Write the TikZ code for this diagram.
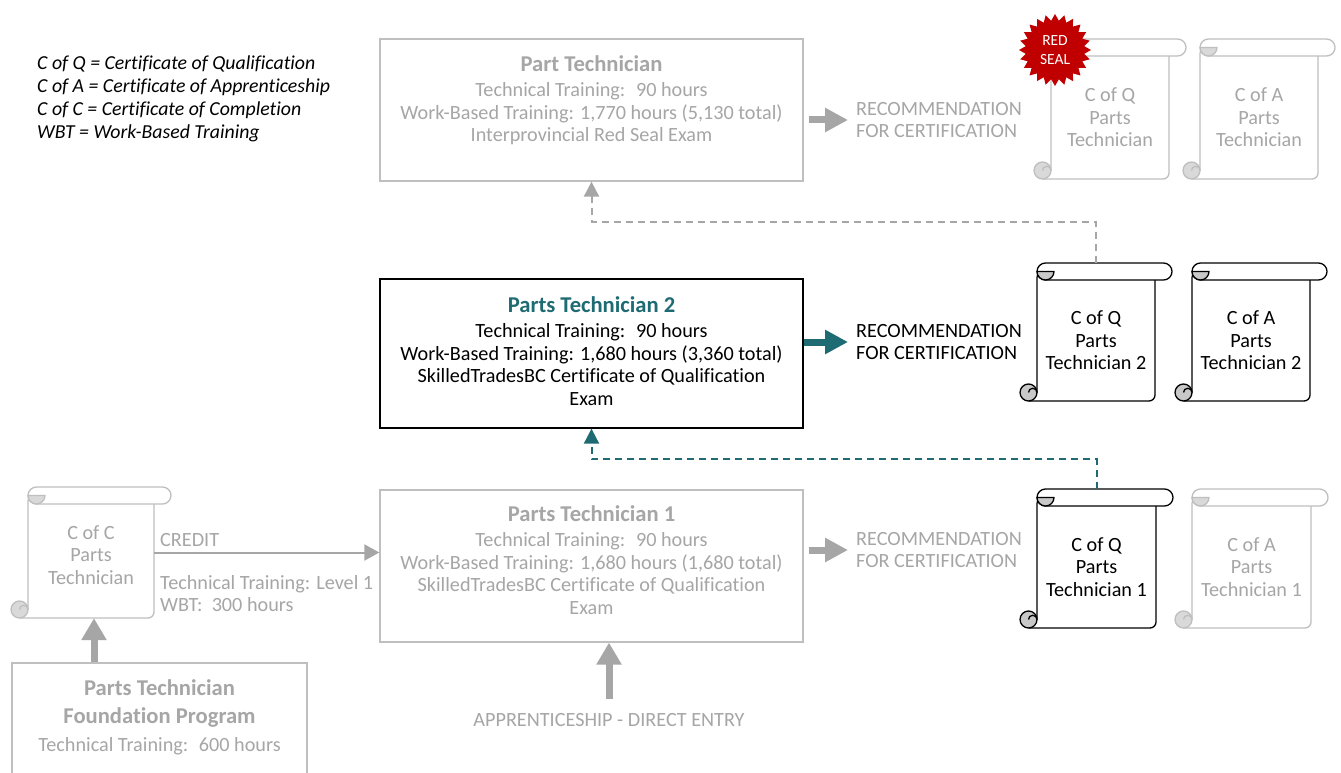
\documentclass[tikz,border=0pt]{standalone}
\usepackage{fontspec}
\setmainfont{Carlito}[Ligatures=NoCommon]
\usetikzlibrary{arrows.meta,shapes.geometric}
\definecolor{gtext}{HTML}{A6A6A6}
\definecolor{gline}{HTML}{BFBFBF}
\definecolor{garr}{HTML}{A6A6A6}
\definecolor{tealc}{HTML}{1E6B74}
\definecolor{curlg}{HTML}{D9D9D9}
\definecolor{curlk}{HTML}{C8C8C8}
\definecolor{sealred}{HTML}{C00000}
\newcommand\titlefont{\fontsize{22.6}{22.4}\selectfont\bfseries}
% #1 name, #2 X0, #3 Y0, #4 X1, #5 Y1, #6 line colour, #7 curl colour, #8 text, #9 text colour
\newcommand\certscroll[9]{%
  \begin{scope}[draw=#6, line width=1.3pt, line join=round]
    \filldraw[fill=white, rounded corners=6pt] (#2+8.5,#5) -- (#4-17,#5) -- (#4-17,#3+8.5) -- (#2+17,#3+8.5) [sharp corners] -- (#2+17,#5-8.5);
    \filldraw[fill=#7] (#2+8.5,#5-8.5) circle[radius=8.5pt];
    \draw (#2+8.5,#5-8.5) arc[start angle=180, end angle=0, radius=4.25pt];
    \filldraw[fill=white, rounded corners=8.5pt] (#2+17,#3) rectangle (#4,#3+17);
    \filldraw[fill=#7] (#2+17,#3+8.5) arc[start angle=180, end angle=360, radius=8.5pt] -- cycle;
  \end{scope}
  \node[align=center, text=#9, inner sep=0] (#1t) at ({(#2+#4)/2},{(#3+17+#5)/2}) {#8};
  \node[inner sep=0, minimum width={#4-#2-34}, minimum height={#5-#3}] (#1) at ({(#2+#4)/2},{(#3+#5)/2}) {};
}
\begin{document}
\begin{tikzpicture}[x=1pt,y=-1pt,
  font=\fontsize{20.2}{22.4}\selectfont,
  graybox/.style={draw=gline, line width=1.3pt, inner sep=0, fill=white},
  blackbox/.style={draw=black, line width=1.3pt, inner sep=0, fill=white},
  boxtext/.style={anchor=north, align=center, inner sep=0},
  recnode/.style={anchor=west, align=left, inner xsep=8pt, inner ysep=0},
  blockarrow/.style={line width=7pt, -{Triangle[length=23pt,width=23pt]}},
  vblockarrow/.style={line width=7pt, -{Triangle[length=22pt,width=24pt]}},
  dashconn/.style={line width=2pt, dash pattern=on 7pt off 5pt, -{Triangle[length=15pt,width=15pt]}},
  thinarrow/.style={line width=2pt, -{Triangle[length=15pt,width=16pt]}}
]
\useasboundingbox (0,0) rectangle (1341,773);
\fill[white] (0,0) rectangle (1341,773);

% legend
\node[anchor=north west, align=left, inner sep=0, font=\fontsize{19.8}{22.7}\selectfont\itshape] (legend) at (37,56)
  {C of Q = Certificate of Qualification\\C of A = Certificate of Apprenticeship\\C of C = Certificate of Completion\\WBT = Work-Based Training};

% boxes
\node[graybox, minimum width=423, minimum height=142] (ptop) at (591.5,110) {};
\node[boxtext, text=gtext] (ptoptx) at ([yshift=-17pt]ptop.north)
  {{\titlefont Part Technician}\\[3pt]Technical Training:~ 90 hours\\Work-Based Training: 1,770 hours (5,130 total)\\Interprovincial Red Seal Exam};

\node[blackbox, minimum width=423, minimum height=149] (pt2) at (591.5,353.5) {};
\node[boxtext, text=black] (pt2tx) at ([yshift=-18pt]pt2.north)
  {{\titlefont\color{tealc}Parts Technician 2}\\[3pt]Technical Training:~ 90 hours\\Work-Based Training: 1,680 hours (3,360 total)\\SkilledTradesBC Certificate of Qualification\\Exam};

\node[graybox, minimum width=423, minimum height=152] (pt1) at (591.5,566) {};
\node[boxtext, text=gtext] (pt1tx) at ([yshift=-16pt]pt1.north)
  {{\titlefont Parts Technician 1}\\[3pt]Technical Training:~ 90 hours\\Work-Based Training: 1,680 hours (1,680 total)\\SkilledTradesBC Certificate of Qualification\\Exam};

\node[graybox, minimum width=295, minimum height=137] (found) at (159.5,731.5) {};
\node[boxtext, text=gtext, font=\fontsize{20.2}{28}\selectfont] (foundtx) at ([yshift=-17pt]found.north)
  {{\fontsize{22.6}{28}\selectfont\bfseries Parts Technician}\\{\fontsize{22.6}{28}\selectfont\bfseries Foundation Program}\\Technical Training:~ 600 hours};

% recommendation labels
\node[recnode, text=gtext] (rectop) at (848,120) {RECOMMENDATION\\FOR CERTIFICATION};
\node[recnode, text=black] (rec2) at (848,342) {RECOMMENDATION\\FOR CERTIFICATION};
\node[recnode, text=gtext] (rec1) at (848,550) {RECOMMENDATION\\FOR CERTIFICATION};

\draw[blockarrow, garr, shorten <=5pt] (rectop.west -| ptop.east) -- (rectop.west);
\draw[blockarrow, tealc] (rec2.west -| pt2.east) -- (rec2.west);
\draw[blockarrow, garr, shorten <=5pt] (rec1.west -| pt1.east) -- (rec1.west);

% scrolls
\certscroll{qtop}{1034}{39}{1186}{179}{gline}{curlg}{C of Q\\Parts\\Technician}{gtext}
\certscroll{atop}{1183}{39}{1335}{179}{gline}{curlg}{C of A\\Parts\\Technician}{gtext}
\certscroll{q2}{1020}{263}{1172}{401}{black}{curlk}{C of Q\\Parts\\Technician 2}{black}
\certscroll{a2}{1175}{263}{1327}{401}{black}{curlk}{C of A\\Parts\\Technician 2}{black}
\certscroll{q1}{1020}{489}{1173}{628}{black}{curlk}{C of Q\\Parts\\Technician 1}{black}
\certscroll{a1}{1175}{489}{1328}{628}{gline}{curlg}{C of A\\Parts\\Technician 1}{gtext}
\certscroll{cc}{11}{487}{171}{618}{gline}{curlg}{}{gtext}
\node[align=center, text=gtext, inner sep=0] (cctx) at (91,555) {C of C\\Parts\\Technician};

% red seal
\node[star, star points=24, star point ratio=1.22, fill=sealred, minimum size=72pt, inner sep=0] (seal) at (1055,50) {};
\node[align=center, text=white, inner sep=0, font=\fontsize{15.5}{19}\selectfont] (sealtx) at (seal.center) {RED\\SEAL};

% dashed connectors
\coordinate (gbend) at (591.5,222);
\draw[dashconn, garr] (q2.north) |- (gbend) -- (ptop.south);
\coordinate (tbend) at (591.5,459);
\draw[dashconn, tealc] (q1.north) |- (tbend) -- (pt2.south);

% credit
\draw[thinarrow, garr] (cc.east) -- (cc.east -| pt1.west);
\node[anchor=west, text=gtext, inner sep=0] (credit) at (160,540) {CREDIT};
\node[anchor=north west, align=left, text=gtext, inner sep=0] (creditinfo) at (160,575)
  {Technical Training: Level 1\\WBT:~ 300 hours};

% foundation arrow
\coordinate (ccfoot) at ([xshift=3pt]cc.south);
\draw[vblockarrow, garr] (found.north -| ccfoot) -- (ccfoot);

% direct entry
\node[text=gtext, inner sep=6pt] (appr) at (609,720) {APPRENTICESHIP - DIRECT ENTRY};
\draw[vblockarrow, garr] ([yshift=8pt]appr.north) -- (appr.north |- pt1.south);
\end{tikzpicture}
\end{document}
